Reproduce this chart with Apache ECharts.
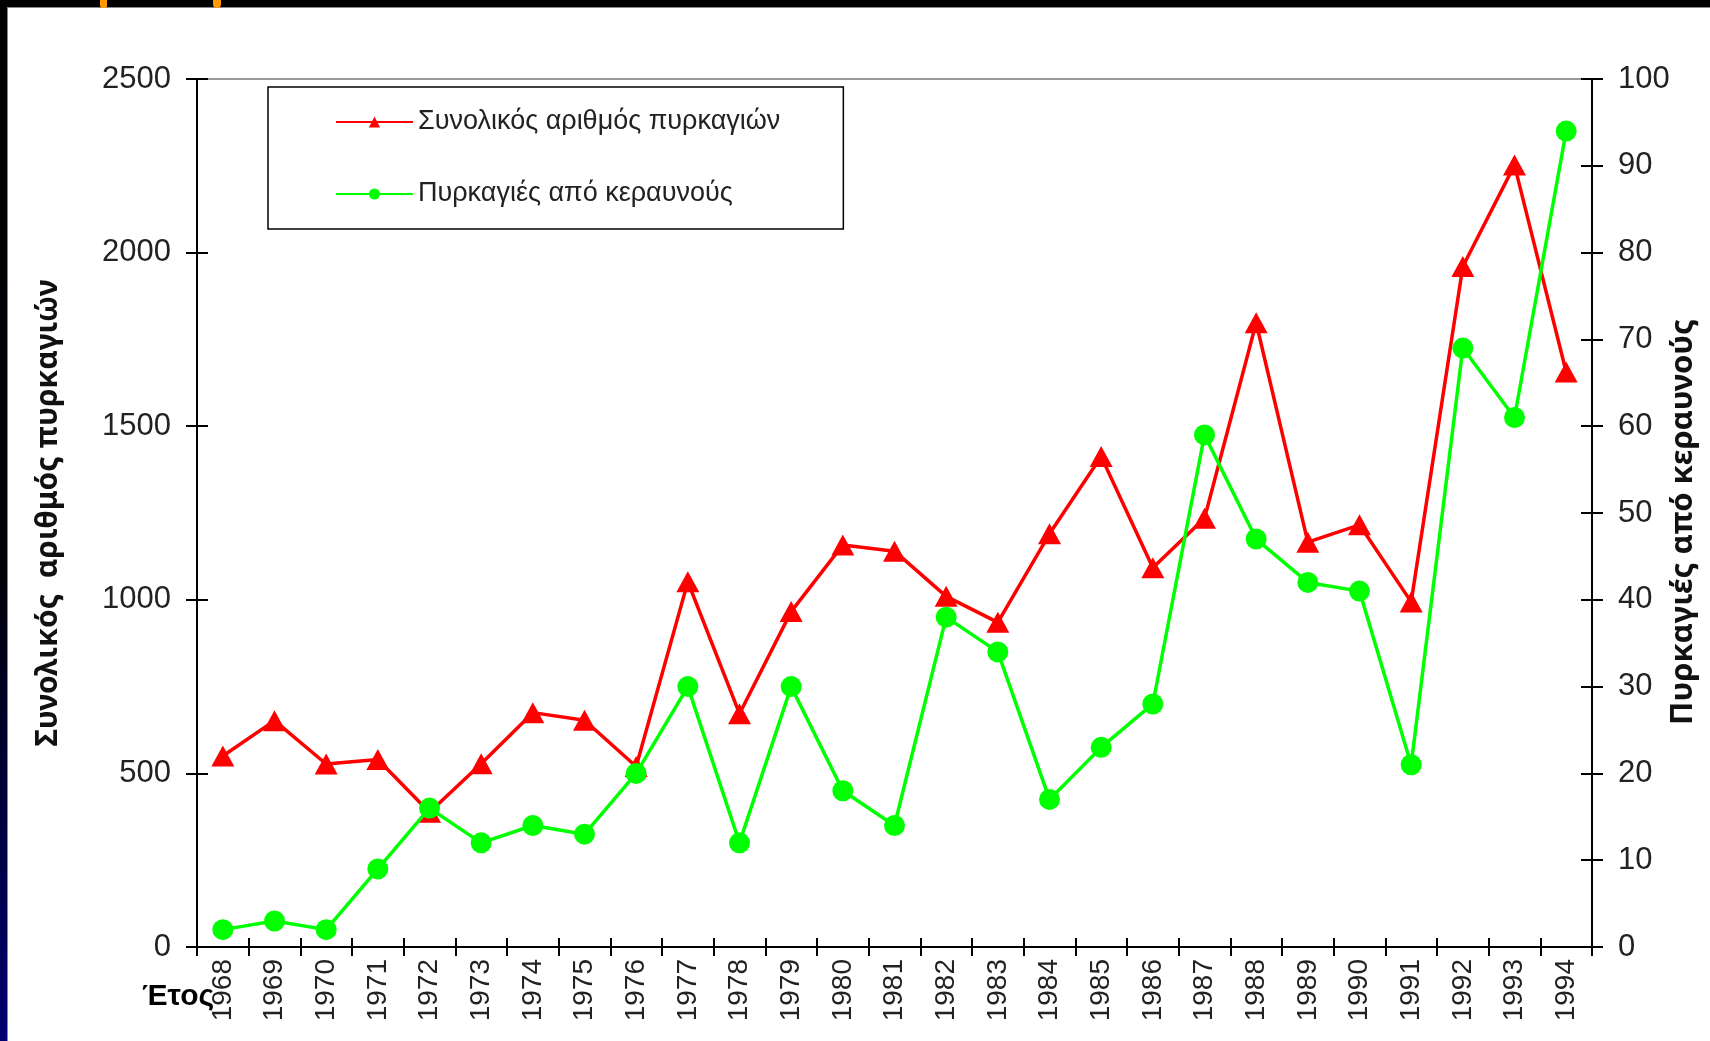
<!DOCTYPE html>
<html>
<head>
<meta charset="utf-8">
<script src="https://cdn.jsdelivr.net/npm/echarts@6/dist/echarts.min.js"></script>
<style>
html,body{margin:0;padding:0;background:#fff;}
#c{width:1710px;height:1041px;}
</style>
</head>
<body>
<div id="c"></div>
<script>
const years = ['1968','1969','1970','1971','1972','1973','1974','1975','1976','1977','1978','1979','1980','1981','1982','1983','1984','1985','1986','1987','1988','1989','1990','1991','1992','1993','1994'];
const totalFires = [550, 652, 527, 540, 388, 528, 675, 653, 520, 1052, 672, 966, 1158, 1140, 1010, 935, 1190, 1413, 1092, 1235, 1798, 1166, 1216, 994, 1960, 2252, 1656];
const lightningFires = [2, 3, 2, 9, 16, 12, 14, 13, 20, 30, 12, 30, 18, 14, 38, 34, 17, 23, 28, 59, 47, 42, 41, 21, 69, 61, 94];
const leftTicks = [0, 2500, 500];
const rightTicks = [0, 100, 10];
const nameTotal = 'Συνολικός αριθμός πυρκαγιών';
const nameLightning = 'Πυρκαγιές από κεραυνούς';
const leftAxisTitle = 'Συνολικός  αριθμός πυρκαγιών';
const xTitle = 'Έτος';

const chart = echarts.init(document.getElementById('c'));
const labelFont = {fontFamily: '"Liberation Sans", Arial, sans-serif', color: '#222'};
const plain = v => String(v);

chart.setOption({
  backgroundColor: '#fff',
  animation: false,
  grid: {left: 197, right: 118, top: 79, bottom: 94, show: true, borderColor: '#999', borderWidth: 2, backgroundColor: 'transparent', containLabel: false, outerBoundsMode: 'none'},
  legend: {
    orient: 'vertical', left: 268, top: 87,
    padding: [20, 63, 20, 67],
    itemWidth: 77, itemHeight: 14, itemGap: 42,
    borderColor: '#000', borderWidth: 1.5, backgroundColor: '#fff',
    textStyle: Object.assign({}, labelFont, {fontSize: 27, lineHeight: 30}),
    data: [nameTotal, nameLightning]
  },
  xAxis: [{
    type: 'category', data: years, boundaryGap: true,
    axisLine: {lineStyle: {color: '#000', width: 2}},
    axisTick: {show: true, inside: false, length: 9, alignWithLabel: false, lineStyle: {color: '#000', width: 2}},
    axisLabel: Object.assign({}, labelFont, {rotate: 90, fontSize: 28, margin: 12, interval: 0}),
    splitLine: {show: false}
  }, {
    type: 'category', data: years, boundaryGap: true, position: 'bottom',
    axisLine: {show: false},
    axisTick: {show: true, inside: true, length: 9, lineStyle: {color: '#000', width: 2}},
    axisLabel: {show: false}, splitLine: {show: false}
  }],
  yAxis: [{
    type: 'value', position: 'left', min: leftTicks[0], max: leftTicks[1], interval: leftTicks[2],
    name: leftAxisTitle, nameLocation: 'middle', nameRotate: 90, nameGap: 134,
    nameTextStyle: {fontFamily: '"Noto Sans", sans-serif', fontWeight: 'bold', fontSize: 30, color: '#111'},
    axisLine: {show: true, lineStyle: {color: '#000', width: 2}},
    axisTick: {show: true, inside: false, length: 11, lineStyle: {color: '#000', width: 2}},
    axisLabel: Object.assign({}, labelFont, {fontSize: 31, margin: 26, formatter: plain}),
    splitLine: {show: false}
  }, {
    type: 'value', position: 'right', min: rightTicks[0], max: rightTicks[1], interval: rightTicks[2],
    axisLine: {show: true, lineStyle: {color: '#000', width: 2}},
    axisTick: {show: true, inside: false, length: 11, lineStyle: {color: '#000', width: 2}},
    axisLabel: Object.assign({}, labelFont, {fontSize: 31, margin: 26, formatter: plain}),
    splitLine: {show: false}
  }, {
    type: 'value', position: 'left', min: leftTicks[0], max: leftTicks[1], interval: leftTicks[2],
    axisLine: {show: false},
    axisTick: {show: true, inside: true, length: 11, lineStyle: {color: '#000', width: 2}},
    axisLabel: {show: false}, splitLine: {show: false}
  }, {
    type: 'value', position: 'right', min: rightTicks[0], max: rightTicks[1], interval: rightTicks[2],
    axisLine: {show: false},
    axisTick: {show: true, inside: true, length: 11, lineStyle: {color: '#000', width: 2}},
    axisLabel: {show: false}, splitLine: {show: false}
  }],
  series: [{
    name: nameTotal, type: 'line', data: totalFires, xAxisIndex: 0, yAxisIndex: 0,
    symbol: 'triangle', symbolSize: [23, 21],
    lineStyle: {color: '#ff0000', width: 3.5}, itemStyle: {color: '#ff0000'}, z: 3
  }, {
    name: nameLightning, type: 'line', data: lightningFires, xAxisIndex: 0, yAxisIndex: 1,
    symbol: 'circle', symbolSize: 21,
    lineStyle: {color: '#00ff00', width: 3.5}, itemStyle: {color: '#00ff00'}, z: 4
  }],
  graphic: [
    {type: 'text', x: 1683, y: 522, rotation: Math.PI / 2, z: 10, style: {text: nameLightning, font: 'bold 31px "Noto Sans", sans-serif', fill: '#111', align: 'center', verticalAlign: 'middle'}},
    {type: 'text', left: 142, top: 982, z: 10, style: {text: xTitle, font: 'bold 30px "Liberation Sans", Arial, sans-serif', fill: '#000'}},
    {type: 'rect', z: 20, shape: {x: 0, y: 0, width: 1710, height: 7}, style: {fill: '#000'}},
    {type: 'rect', z: 20, shape: {x: 0, y: 0, width: 7, height: 1041}, style: {fill: new echarts.graphic.LinearGradient(0, 0, 0, 1, [{offset: 0, color: '#000'}, {offset: 0.55, color: '#000008'}, {offset: 1, color: '#000070'}])}},
    {type: 'rect', z: 20, shape: {x: 7, y: 7, width: 1703, height: 1}, style: {fill: '#888'}},
    {type: 'rect', z: 20, shape: {x: 7, y: 7, width: 1, height: 1034}, style: {fill: '#888'}},
    {type: 'rect', z: 21, shape: {x: 100, y: 0, width: 7, height: 8, r: [0, 0, 2, 3]}, style: {fill: '#ff9900'}},
    {type: 'rect', z: 21, shape: {x: 213, y: 0, width: 8, height: 8, r: [0, 0, 4, 4]}, style: {fill: '#ff9900'}}
  ]
});
</script>
</body>
</html>
